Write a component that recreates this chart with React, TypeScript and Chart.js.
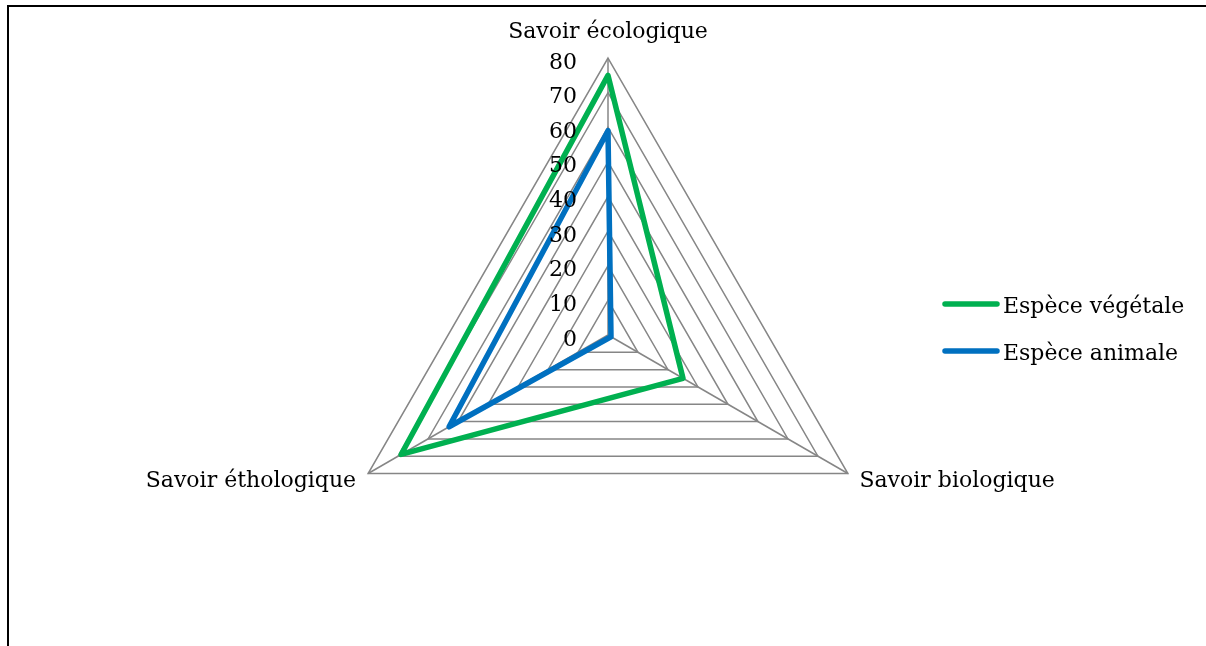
import React, { useEffect, useRef } from "react";
import { Chart, registerables } from "chart.js";

Chart.register(...registerables);

const categories = ["Savoir écologique", "Savoir biologique", "Savoir éthologique"];
const seriesNames = ["Espèce végétale", "Espèce animale"];
const vegetaleValues = [75, 25, 69];
const animaleValues = [59, 1, 53];
const tickValues = [0, 10, 20, 30, 40, 50, 60, 70, 80];

const FONT = '"DejaVu Serif", serif';
const W = 1206;
const H = 646;

const overlayPlugin = {
  id: "overlay",
  afterDatasetsDraw(chart: any) {
    const scale = chart.scales.r;
    const ctx = chart.ctx as CanvasRenderingContext2D;
    ctx.save();
    ctx.fillStyle = "#000";
    ctx.textBaseline = "alphabetic";
    // tick labels
    ctx.font = `22px ${FONT}`;
    ctx.textAlign = "right";
    tickValues.forEach((v) => {
      const p = scale.getPointPositionForValue(0, v);
      ctx.fillText(String(v), p.x - 31, p.y + 10.5);
    });
    // point labels
    ctx.font = `22px ${FONT}`;
    categories.forEach((label, i) => {
      const p = scale.getPointPosition(i, scale.drawingArea);
      if (i === 0) {
        ctx.textAlign = "center";
        ctx.fillText(label, p.x, p.y - 20);
      } else if (i === 1) {
        ctx.textAlign = "left";
        ctx.fillText(label, p.x + 11.5, p.y + 13.2);
      } else {
        ctx.textAlign = "right";
        ctx.fillText(label, p.x - 12, p.y + 13.2);
      }
    });
    // legend
    chart.data.datasets.forEach((ds: any, i: number) => {
      const y = 304 + i * 47;
      ctx.strokeStyle = ds.borderColor;
      ctx.lineWidth = 5.5;
      ctx.lineCap = "round";
      ctx.beginPath();
      ctx.moveTo(945, y);
      ctx.lineTo(997, y);
      ctx.stroke();
      ctx.textAlign = "left";
      ctx.fillText(ds.label, 1003, y + 9);
    });
    ctx.restore();
  },
};

export default function App() {
  const canvasRef = useRef<HTMLCanvasElement | null>(null);

  useEffect(() => {
    if (!canvasRef.current) return;
    const chart = new Chart(canvasRef.current, {
      type: "radar",
      data: {
        labels: categories,
        datasets: [
          {
            label: seriesNames[0],
            data: vegetaleValues,
            borderColor: "#00B050",
            backgroundColor: "transparent",
            borderWidth: 5.5,
            pointRadius: 0,
            fill: false,
            borderJoinStyle: "round",
          },
          {
            label: seriesNames[1],
            data: animaleValues,
            borderColor: "#0070C0",
            backgroundColor: "transparent",
            borderWidth: 5.5,
            pointRadius: 0,
            fill: false,
            borderJoinStyle: "round",
          },
        ],
      },
      options: {
        responsive: false,
        animation: false,
        layout: { padding: { left: 300, right: 290, top: 58, bottom: 34 } },
        plugins: { legend: { display: false }, tooltip: { enabled: false } },
        elements: { line: { tension: 0 } },
        scales: {
          r: {
            min: 0,
            max: 80,
            ticks: { display: false, stepSize: 10 },
            pointLabels: { display: false },
            grid: { color: "#868686", lineWidth: 1.5 },
            angleLines: { color: "#868686", lineWidth: 1.5 },
          },
        },
      },
      plugins: [overlayPlugin],
    } as any);
    return () => chart.destroy();
  }, []);

  return (
    <div style={{ position: "fixed", left: 0, top: 0, width: W, height: H, background: "#fff" }}>
      <canvas ref={canvasRef} width={W} height={H} style={{ display: "block", position: "absolute", left: 0, top: 0 }} />
      <div
        style={{
          position: "absolute",
          left: 7,
          top: 5,
          width: W - 7,
          height: H - 5,
          borderLeft: "2px solid #000",
          borderTop: "2px solid #000",
          boxSizing: "border-box",
          pointerEvents: "none",
        }}
      />
    </div>
  );
}
